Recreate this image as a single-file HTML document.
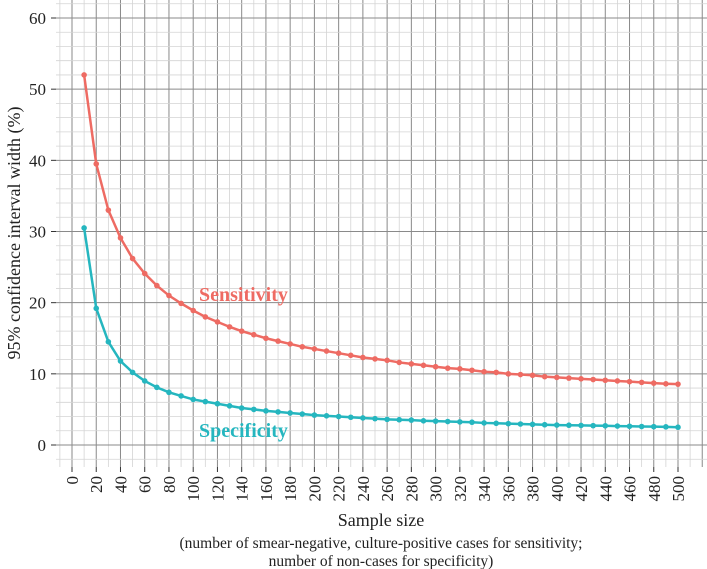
<!DOCTYPE html>
<html><head><meta charset="utf-8"><style>
body{margin:0;background:#fff}
svg{display:block;font-family:"Liberation Serif",serif}
</style></head><body>
<svg id="chart" width="707" height="569"></svg>
<script>
const sampleSizes=[];for(let n=10;n<=500;n+=10)sampleSizes.push(n);
const sensitivity=[52,39.5,33,29.1,26.2,24.1,22.4,21.0,19.9,18.9,18.0,17.3,16.6,16.0,15.5,15.0,14.6,14.2,13.8,13.5,13.2,12.9,12.6,12.3,12.1,11.9,11.6,11.4,11.2,11.0,10.8,10.7,10.5,10.3,10.2,10.0,9.9,9.8,9.6,9.5,9.4,9.3,9.2,9.1,9.0,8.9,8.8,8.7,8.6,8.55];
const specificity=[30.5,19.2,14.5,11.8,10.2,9.0,8.1,7.4,6.9,6.4,6.1,5.8,5.5,5.2,5.0,4.8,4.65,4.5,4.35,4.2,4.1,4.0,3.9,3.8,3.7,3.6,3.55,3.5,3.4,3.35,3.3,3.25,3.2,3.1,3.05,3.0,2.95,2.9,2.85,2.8,2.78,2.75,2.72,2.7,2.66,2.63,2.6,2.58,2.55,2.5];
const xTicks=[0,20,40,60,80,100,120,140,160,180,200,220,240,260,280,300,320,340,360,380,400,420,440,460,480,500];
const yTicks=[0,10,20,30,40,50,60];
const NS="http://www.w3.org/2000/svg";
const svg=document.getElementById('chart');
const L=56,R=707,T=0,B=467;
const x=v=>72+v*(678-72)/500;
const y=v=>445-v*(445-18)/60;
function mk(t,a,p){const e=document.createElementNS(NS,t);for(const k in a)e.setAttribute(k,a[k]);(p||svg).appendChild(e);return e;}
const g=mk('g',{});
for(let v=-10;v<=540;v+=10){const px=x(v);if(px<L||px>R)continue;const maj=v%20===0;mk('line',{x1:px,x2:px,y1:T,y2:B,stroke:maj?'#8a8a8a':'#d4d4d4','stroke-width':maj?1:0.8},g);}
for(let v=-2;v<=64;v+=2){const py=y(v);if(py<T||py>B)continue;const maj=v%10===0;mk('line',{x1:L,x2:R,y1:py,y2:py,stroke:maj?'#8a8a8a':'#d4d4d4','stroke-width':maj?1:0.8},g);}
yTicks.forEach(v=>{mk('line',{x1:51,x2:56,y1:y(v),y2:y(v),stroke:'#333'});
 const t=mk('text',{x:46,y:y(v)+6,'text-anchor':'end','font-size':17,fill:'#222'});t.textContent=v;
 });
xTicks.forEach(v=>{mk('line',{x1:x(v),x2:x(v),y1:467,y2:472,stroke:'#333'});
 const t=mk('text',{x:0,y:0,'text-anchor':'end','font-size':17,fill:'#222',transform:`translate(${x(v)+6},476) rotate(-90)`});t.textContent=v;
 });
function series(vals,col,name){
 const p=mk('polyline',{points:vals.map((v,i)=>x(sampleSizes[i])+','+y(v)).join(' '),fill:'none',stroke:col,'stroke-width':2.5});
 
 vals.forEach((v,i)=>{const c=mk('circle',{cx:x(sampleSizes[i]),cy:y(v),r:2.8,fill:col});
 });
}
series(sensitivity,'#ee6b63','sensitivity');
series(specificity,'#25b6bf','specificity');
</script>
<svg width="707" height="569" style="position:absolute;left:0;top:0;font-family:'Liberation Serif',serif">
<text x="199" y="301" font-size="20" font-weight="bold" fill="#ee6b63">Sensitivity</text>
<text x="199" y="437" font-size="20" font-weight="bold" fill="#25b6bf">Specificity</text>
<text transform="translate(20,233) rotate(-90)" text-anchor="middle" font-size="18" fill="#222">95% confidence interval width (%)</text>
<text x="381" y="526" text-anchor="middle" font-size="18" fill="#222">Sample size</text>
<text x="381" y="548" text-anchor="middle" font-size="15.5" fill="#222">(number of smear-negative, culture-positive cases for sensitivity;</text>
<text x="381" y="566" text-anchor="middle" font-size="15.5" fill="#222">number of non-cases for specificity)</text>
</svg>
</body></html>
